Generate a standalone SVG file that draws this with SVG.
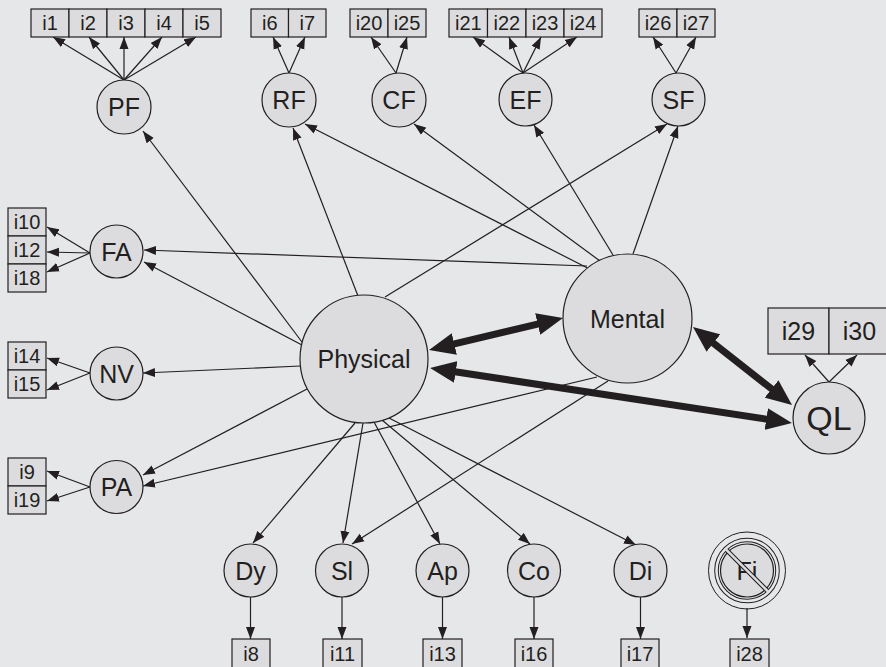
<svg xmlns="http://www.w3.org/2000/svg" width="886" height="667" viewBox="0 0 886 667">
<style>
text{font-family:"Liberation Sans",Arial,Helvetica,sans-serif;fill:#231f20;text-anchor:middle}
.n{fill:#dcdcdf;stroke:#231f20;stroke-width:1.2}
.b{fill:#dcdcdf;stroke:#231f20;stroke-width:1.2}
.t{font-size:25px}
.bt{font-size:20px}
.e{stroke:#231f20;stroke-width:1.2;fill:none;marker-end:url(#ah)}
.k{stroke:#231f20;stroke-width:7;fill:none;marker-end:url(#bh);marker-start:url(#bh)}
</style>
<defs>
<marker id="ah" markerUnits="userSpaceOnUse" markerWidth="12" markerHeight="10" refX="12" refY="4.5" orient="auto" viewBox="0 0 12 9"><path d="M0,0L12,4.5L0,9z" fill="#231f20"/></marker>
<marker id="bh" markerUnits="userSpaceOnUse" markerWidth="26" markerHeight="22" refX="14" refY="11" orient="auto-start-reverse" viewBox="0 0 26 22"><path d="M0,0L26,11L0,22z" fill="#231f20"/></marker>
</defs>
<rect width="886" height="667" fill="#e6e7e9"/>
<g id="connectors">
<line class="e" x1="124" y1="80" x2="53" y2="37"/>
<line class="e" x1="124" y1="80" x2="89" y2="37"/>
<line class="e" x1="124" y1="80" x2="124" y2="37"/>
<line class="e" x1="124" y1="80" x2="162" y2="37"/>
<line class="e" x1="124" y1="80" x2="196" y2="37"/>
<line class="e" x1="289" y1="73" x2="273" y2="37"/>
<line class="e" x1="289" y1="73" x2="305" y2="37"/>
<line class="e" x1="396" y1="73" x2="371" y2="37"/>
<line class="e" x1="396" y1="73" x2="407" y2="37"/>
<line class="e" x1="523" y1="73" x2="473" y2="37"/>
<line class="e" x1="523" y1="73" x2="509" y2="37"/>
<line class="e" x1="523" y1="73" x2="541" y2="37"/>
<line class="e" x1="523" y1="73" x2="577" y2="37"/>
<line class="e" x1="676" y1="73" x2="653" y2="37"/>
<line class="e" x1="676" y1="73" x2="696" y2="37"/>
<line class="e" x1="90" y1="253" x2="47" y2="227"/>
<line class="e" x1="90" y1="253" x2="47" y2="252"/>
<line class="e" x1="90" y1="253" x2="47" y2="272"/>
<line class="e" x1="90" y1="373" x2="47" y2="358"/>
<line class="e" x1="90" y1="373" x2="47" y2="390"/>
<line class="e" x1="90" y1="487" x2="47" y2="471"/>
<line class="e" x1="90" y1="487" x2="47" y2="501"/>
<line class="e" x1="250.5" y1="597" x2="250.5" y2="639"/>
<line class="e" x1="342" y1="597" x2="342" y2="639"/>
<line class="e" x1="442.5" y1="597" x2="442.5" y2="639"/>
<line class="e" x1="534" y1="597" x2="534" y2="639"/>
<line class="e" x1="640.5" y1="597" x2="640.5" y2="639"/>
<line class="e" x1="747" y1="608" x2="747" y2="638"/>
<line class="e" x1="829" y1="382" x2="805" y2="355"/>
<line class="e" x1="829" y1="382" x2="857" y2="355"/>
<line class="e" x1="302" y1="342" x2="143" y2="131"/>
<line class="e" x1="358" y1="296" x2="293" y2="128"/>
<line class="e" x1="385" y1="297" x2="667" y2="124"/>
<line class="e" x1="301.5" y1="344.7" x2="144" y2="262"/>
<line class="e" x1="300.5" y1="366" x2="143" y2="373"/>
<line class="e" x1="307" y1="389" x2="143" y2="475"/>
<line class="e" x1="355" y1="423" x2="253" y2="543"/>
<line class="e" x1="363" y1="423" x2="343" y2="543"/>
<line class="e" x1="374" y1="422" x2="440" y2="544"/>
<line class="e" x1="382" y1="420" x2="530" y2="544"/>
<line class="e" x1="389" y1="418" x2="636" y2="545"/>
<line class="e" x1="587.5" y1="268" x2="305" y2="124"/>
<line class="e" x1="600" y1="261" x2="414" y2="124"/>
<line class="e" x1="613" y1="255" x2="534" y2="125"/>
<line class="e" x1="633" y1="254" x2="678" y2="126"/>
<line class="e" x1="587" y1="266" x2="144" y2="250"/>
<line class="e" x1="597" y1="377" x2="143" y2="486"/>
<line class="e" x1="608" y1="381" x2="352" y2="544"/>
<line class="k" x1="440.7" y1="347.2" x2="551.3" y2="320.8"/>
<line class="k" x1="441.9" y1="369.8" x2="780.1" y2="421.2"/>
<line class="k" x1="702.4" y1="334.4" x2="782.6" y2="397.6"/>
</g>
<g id="i1"><rect class="b" x="31" y="9" width="38" height="28"/><text class="bt" x="50" y="30">i1</text></g>
<g id="i2"><rect class="b" x="69" y="9" width="38" height="28"/><text class="bt" x="88" y="30">i2</text></g>
<g id="i3"><rect class="b" x="107" y="9" width="38" height="28"/><text class="bt" x="126" y="30">i3</text></g>
<g id="i4"><rect class="b" x="145" y="9" width="38" height="28"/><text class="bt" x="164" y="30">i4</text></g>
<g id="i5"><rect class="b" x="183" y="9" width="38" height="28"/><text class="bt" x="202" y="30">i5</text></g>
<g id="i6"><rect class="b" x="251" y="9" width="37.5" height="28"/><text class="bt" x="269.8" y="30">i6</text></g>
<g id="i7"><rect class="b" x="288.5" y="9" width="37.5" height="28"/><text class="bt" x="307.3" y="30">i7</text></g>
<g id="i20"><rect class="b" x="350" y="9" width="38" height="28"/><text class="bt" x="369" y="30">i20</text></g>
<g id="i25"><rect class="b" x="388" y="9" width="38" height="28"/><text class="bt" x="407" y="30">i25</text></g>
<g id="i21"><rect class="b" x="449" y="9" width="38.5" height="28"/><text class="bt" x="468.3" y="30">i21</text></g>
<g id="i22"><rect class="b" x="487.5" y="9" width="38.5" height="28"/><text class="bt" x="506.8" y="30">i22</text></g>
<g id="i23"><rect class="b" x="526" y="9" width="38" height="28"/><text class="bt" x="545" y="30">i23</text></g>
<g id="i24"><rect class="b" x="564" y="9" width="38" height="28"/><text class="bt" x="583" y="30">i24</text></g>
<g id="i26"><rect class="b" x="639" y="9" width="38" height="28"/><text class="bt" x="658" y="30">i26</text></g>
<g id="i27"><rect class="b" x="677" y="9" width="38" height="28"/><text class="bt" x="696" y="30">i27</text></g>
<g id="i10"><rect class="b" x="8" y="208" width="38" height="28"/><text class="bt" x="27" y="229">i10</text></g>
<g id="i12"><rect class="b" x="8" y="236" width="38" height="28"/><text class="bt" x="27" y="257">i12</text></g>
<g id="i18"><rect class="b" x="8" y="264" width="38" height="28"/><text class="bt" x="27" y="285">i18</text></g>
<g id="i14"><rect class="b" x="8" y="342" width="38" height="28"/><text class="bt" x="27" y="363">i14</text></g>
<g id="i15"><rect class="b" x="8" y="370" width="38" height="28"/><text class="bt" x="27" y="391">i15</text></g>
<g id="i9"><rect class="b" x="8" y="458" width="38" height="28"/><text class="bt" x="27" y="479">i9</text></g>
<g id="i19"><rect class="b" x="8" y="486" width="38" height="28"/><text class="bt" x="27" y="507">i19</text></g>
<g id="i8"><rect class="b" x="232" y="639" width="38" height="30"/><text class="bt" x="251" y="661">i8</text></g>
<g id="i11"><rect class="b" x="323" y="639" width="39" height="30"/><text class="bt" x="342.5" y="661">i11</text></g>
<g id="i13"><rect class="b" x="423" y="639" width="39" height="30"/><text class="bt" x="442.5" y="661">i13</text></g>
<g id="i16"><rect class="b" x="515" y="639" width="38" height="30"/><text class="bt" x="534" y="661">i16</text></g>
<g id="i17"><rect class="b" x="621" y="639" width="38" height="30"/><text class="bt" x="640" y="661">i17</text></g>
<g id="i28"><rect class="b" x="730" y="639" width="39" height="30"/><text class="bt" x="749.5" y="661">i28</text></g>
<g id="i29"><rect class="b" x="768" y="308" width="61" height="46"/><text class="t" x="798.5" y="340">i29</text></g>
<g id="i30"><rect class="b" x="829" y="308" width="61" height="46"/><text class="t" x="859.5" y="340">i30</text></g>
<g id="PF"><circle class="n" cx="124" cy="107" r="27"/><text class="t" x="124" y="116">PF</text></g>
<g id="RF"><circle class="n" cx="289" cy="100" r="27"/><text class="t" x="289" y="109">RF</text></g>
<g id="CF"><circle class="n" cx="399" cy="100" r="27"/><text class="t" x="399" y="109">CF</text></g>
<g id="EF"><circle class="n" cx="525.5" cy="99.5" r="26.5"/><text class="t" x="525.5" y="108.5">EF</text></g>
<g id="SF"><circle class="n" cx="678.5" cy="99.5" r="26.5"/><text class="t" x="678.5" y="108.5">SF</text></g>
<g id="FA"><circle class="n" cx="116.5" cy="251.5" r="26.5"/><text class="t" x="116.5" y="260.5">FA</text></g>
<g id="NV"><circle class="n" cx="116.5" cy="373.5" r="26.5"/><text class="t" x="116.5" y="382.5">NV</text></g>
<g id="PA"><circle class="n" cx="116.5" cy="487" r="26.5"/><text class="t" x="116.5" y="496">PA</text></g>
<g id="Dy"><circle class="n" cx="250.5" cy="570.5" r="26.5"/><text class="t" x="250.5" y="579.5">Dy</text></g>
<g id="Sl"><circle class="n" cx="342" cy="570.5" r="26.5"/><text class="t" x="342" y="579.5">Sl</text></g>
<g id="Ap"><circle class="n" cx="442.5" cy="570.5" r="26.5"/><text class="t" x="442.5" y="579.5">Ap</text></g>
<g id="Co"><circle class="n" cx="534" cy="570.5" r="26.5"/><text class="t" x="534" y="579.5">Co</text></g>
<g id="Di"><circle class="n" cx="640.5" cy="570.5" r="26.5"/><text class="t" x="640.5" y="579.5">Di</text></g>
<g id="Fi">
<circle cx="747" cy="570.5" r="38.5" fill="none" stroke="#231f20" stroke-width="1"/>
<circle class="n" cx="747" cy="570.5" r="26.5"/>
<text class="t" x="747" y="579.5">Fi</text>
<circle cx="747" cy="570.5" r="30.5" fill="none" stroke="#231f20" stroke-width="4.6"/>
<line x1="725.4" y1="548.9" x2="768.6" y2="592.1" stroke="#231f20" stroke-width="4.6"/>
<circle cx="747" cy="570.5" r="30.5" fill="none" stroke="#e6e7e9" stroke-width="2.6"/>
<line x1="725.4" y1="548.9" x2="768.6" y2="592.1" stroke="#dcdcdf" stroke-width="2.6"/>
</g>
<g id="Physical"><circle class="n" cx="364" cy="359" r="64"/><text class="t" x="364" y="368">Physical</text></g>
<g id="Mental"><circle class="n" cx="627.5" cy="318.5" r="64.5"/><text class="t" x="627.5" y="327.5">Mental</text></g>
<g id="QL"><circle class="n" cx="829" cy="418" r="36"/><text x="829" y="430" style="font-size:34px">QL</text></g>
</svg>
